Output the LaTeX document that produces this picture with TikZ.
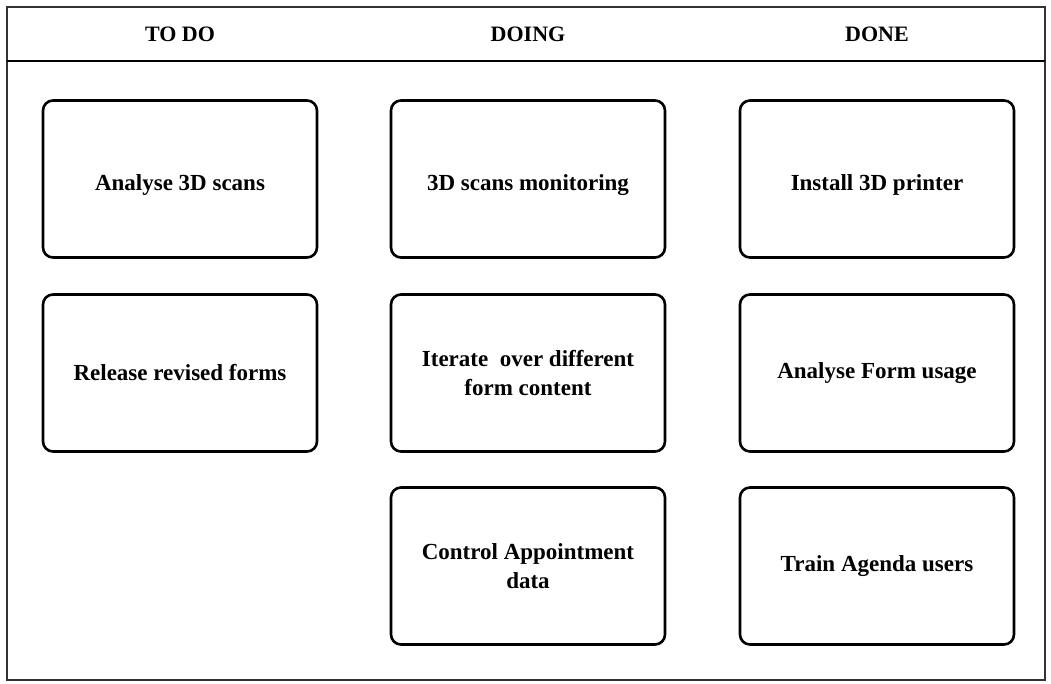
\documentclass[tikz,border=0pt]{standalone}
\usepackage{fontspec}
\setmainfont{Liberation Serif}
\newcommand{\lowtext}[1]{\raisebox{-11.5pt}[0pt][0pt]{#1}}
\begin{document}
\begin{tikzpicture}[x=1pt,y=-1pt,
  card/.style={draw=black, line width=2.6pt, rounded corners=10pt,
    minimum width=274pt, minimum height=157pt, inner sep=0pt,
    align=center, font=\fontsize{23}{29}\selectfont\bfseries},
  colhead/.style={font=\fontsize{22}{26}\selectfont\bfseries},
  frame/.style={line width=2pt, draw=black!80}]
\useasboundingbox (0,0) rectangle (1051,684);
% board outline and header row
\draw[frame] (7,7) rectangle (1045,680);
\draw[line width=2.6pt] (7,61) -- (1045,61);
\node[colhead] (todo)  at (180,34) {TO DO};
\node[colhead] (doing) at (528,34) {DOING};
\node[colhead] (done)  at (877,34) {DONE};
% cards
\node[card] (c11) at (180,179) {\lowtext{Analyse 3D scans}};
\node[card] (c12) at (180,373) {Release revised forms};
\node[card] (c21) at (528,179) {\lowtext{3D scans monitoring}};
\node[card] (c22) at (528,373) {Iterate\ \ over different\\form content};
\node[card] (c23) at (528,566) {Control Appointment\\data};
\node[card] (c31) at (877,179) {\lowtext{Install 3D printer}};
\node[card] (c32) at (877,373) {Analyse Form usage};
\node[card] (c33) at (877,566) {Train Agenda users};
\end{tikzpicture}
\end{document}
